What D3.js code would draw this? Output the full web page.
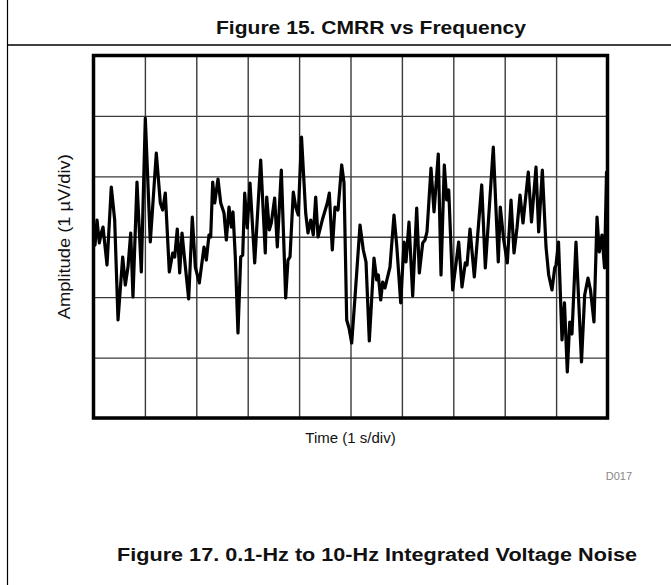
<!DOCTYPE html>
<html>
<head>
<meta charset="utf-8">
<script src="https://cdn.jsdelivr.net/npm/d3@7"></script>
<style>
  html, body { margin: 0; padding: 0; background: #fff; }
  svg { display: block; }
  text { font-family: "Liberation Sans", Arial, sans-serif; }
</style>
</head>
<body>
<svg id="chart" width="671" height="585"></svg>
<script>
// ---- data (time in s, amplitude in µV) ----
const timeS = [0.029,0.068,0.113,0.152,0.185,0.263,0.346,0.412,0.477,0.568,0.619,0.671,0.724,0.768,0.846,0.930,1.008,1.105,1.222,1.300,1.346,1.397,1.475,1.541,1.580,1.630,1.677,1.722,1.774,1.852,1.922,1.981,2.058,2.150,2.195,2.247,2.280,2.319,2.358,2.422,2.475,2.539,2.584,2.636,2.681,2.714,2.759,2.811,2.864,2.903,2.942,2.992,3.045,3.136,3.253,3.342,3.370,3.420,3.459,3.525,3.576,3.654,3.739,3.784,3.823,3.887,3.934,3.984,4.047,4.128,4.173,4.226,4.276,4.323,4.368,4.451,4.549,4.588,4.646,4.698,4.757,4.829,4.874,4.926,4.971,5.023,5.088,5.185,5.249,5.302,5.366,5.457,5.510,5.541,5.588,5.626,5.671,5.768,5.846,5.899,5.977,6.041,6.080,6.138,6.210,6.288,6.339,6.405,6.449,6.488,6.566,6.625,6.708,6.761,6.825,6.872,6.911,6.988,7.105,7.169,7.233,7.267,7.325,7.409,7.553,7.623,7.778,7.875,7.914,7.981,8.051,8.123,8.181,8.239,8.298,8.356,8.459,8.521,8.609,8.661,8.732,8.804,8.856,8.920,8.973,8.998,9.047,9.115,9.163,9.218,9.265,9.309,9.387,9.494,9.556,9.621,9.669,9.737,9.796,9.840,9.893,9.942,9.981];
const amplitudeUV = [-0.137,0.277,-0.103,0.062,0.161,-0.468,0.823,0.277,-1.378,-0.335,-0.799,-0.501,0.062,-0.997,0.906,-0.583,1.965,-0.087,1.386,0.559,0.443,0.724,-0.583,-0.269,-0.335,0.128,-0.600,0.062,-0.385,-1.030,0.327,-0.501,-0.765,-0.170,-0.385,0.029,-0.004,0.906,0.559,0.956,0.559,0.393,-0.054,0.492,0.161,0.410,-0.335,-1.593,-0.335,-0.302,0.724,0.145,0.890,-0.434,1.270,-0.269,0.658,0.112,0.228,0.641,-0.170,1.105,-1.014,-0.385,-0.335,0.741,0.492,0.360,1.651,0.393,0.062,0.277,0.029,0.658,-0.004,0.277,0.559,0.724,-0.219,0.492,0.443,1.188,0.890,-1.378,-1.510,-1.759,-0.997,0.194,-0.219,-0.418,-1.725,-0.352,-0.716,-0.633,-1.047,-0.749,-0.848,-0.501,0.360,-0.137,-1.096,-0.087,-0.418,0.244,-0.981,0.476,-0.600,-0.103,-0.054,0.079,1.138,0.410,1.370,-0.633,1.188,0.608,0.774,-0.881,-0.087,-0.832,-0.434,-0.468,0.128,-0.666,0.857,-0.517,1.485,-0.418,0.492,-0.054,-0.434,0.608,-0.269,0.145,0.691,0.228,1.072,0.244,1.154,0.079,1.105,-0.170,-0.633,-0.881,-0.517,-0.468,-0.087,-1.709,-1.096,-2.239,-1.411,-1.610,-0.087,-2.073,-0.964,-0.683,-0.881,-1.411,0.327,-0.252,0.029,-0.517,1.072];
const xGridTicks = [0,1,2,3,4,5,6,7,8,9,10];
const yGridTicks = [-3,-2,-1,0,1,2,3];
const titleText = "Figure 15. CMRR vs Frequency";
const captionText = "Figure 17. 0.1-Hz to 10-Hz Integrated Voltage Noise";
const xLabel = "Time (1 s/div)";
const yLabel = "Amplitude (1 \u00B5V/div)";
const codeText = "D017";

// ---- layout ----
const svg = d3.select("#chart");
const plot = { left: 93.5, right: 607.5, top: 55.5, bottom: 418 };

const x = d3.scaleLinear().domain([0, 10]).range([plot.left, plot.right]);
const y = d3.scaleLinear().domain([-3, 3]).range([plot.bottom, plot.top]);

// outer frame lines
svg.append("line").attr("x1", 7.5).attr("x2", 7.5).attr("y1", 0).attr("y2", 585)
  .attr("stroke", "#000").attr("stroke-width", 1.2);
svg.append("line").attr("x1", 7).attr("x2", 671).attr("y1", 45).attr("y2", 45)
  .attr("stroke", "#000").attr("stroke-width", 1.5);

// title
svg.append("text").attr("x", 371).attr("y", 34).attr("text-anchor", "middle")
  .attr("font-size", 18).attr("font-weight", "bold").attr("fill", "#111")
  .attr("textLength", 310).attr("lengthAdjust", "spacingAndGlyphs").text(titleText);

// grid via axes
const gx = svg.append("g").attr("transform", `translate(0,${plot.bottom})`)
  .call(d3.axisBottom(x).tickValues(xGridTicks).tickSize(-(plot.bottom - plot.top)).tickFormat(""));
const gy = svg.append("g").attr("transform", `translate(${plot.left},0)`)
  .call(d3.axisLeft(y).tickValues(yGridTicks).tickSize(-(plot.right - plot.left)).tickFormat(""));
[gx, gy].forEach(g => {
  g.select(".domain").remove();
  g.selectAll(".tick line").attr("stroke", "#3a3a3a").attr("stroke-width", 1.4);
});

// waveform
const pts = timeS.map((t, i) => [t, amplitudeUV[i]]);
svg.append("path").datum(pts)
  .attr("fill", "none").attr("stroke", "#000").attr("stroke-width", 3.2)
  .attr("stroke-linejoin", "round").attr("stroke-linecap", "round")
  .attr("d", d3.line().x(d => x(d[0])).y(d => y(d[1])));

// plot border
svg.append("rect").attr("x", plot.left).attr("y", plot.top)
  .attr("width", plot.right - plot.left).attr("height", plot.bottom - plot.top)
  .attr("fill", "none").attr("stroke", "#000").attr("stroke-width", 3.5);

// axis labels
svg.append("text").attr("x", (plot.left + plot.right) / 2).attr("y", 443)
  .attr("text-anchor", "middle").attr("font-size", 15).attr("fill", "#111").text(xLabel);
svg.append("text")
  .attr("transform", `translate(70,${(plot.top + plot.bottom) / 2}) rotate(-90)`)
  .attr("text-anchor", "middle").attr("font-size", 16).attr("fill", "#111")
  .attr("textLength", 165).attr("lengthAdjust", "spacingAndGlyphs").text(yLabel);

// code label
svg.append("text").attr("x", 632).attr("y", 480).attr("text-anchor", "end")
  .attr("font-size", 11).attr("fill", "#888").text(codeText);

// caption
svg.append("text").attr("x", 377).attr("y", 561).attr("text-anchor", "middle")
  .attr("font-size", 18).attr("font-weight", "bold").attr("fill", "#111")
  .attr("textLength", 520).attr("lengthAdjust", "spacingAndGlyphs").text(captionText);
</script>
</body>
</html>
